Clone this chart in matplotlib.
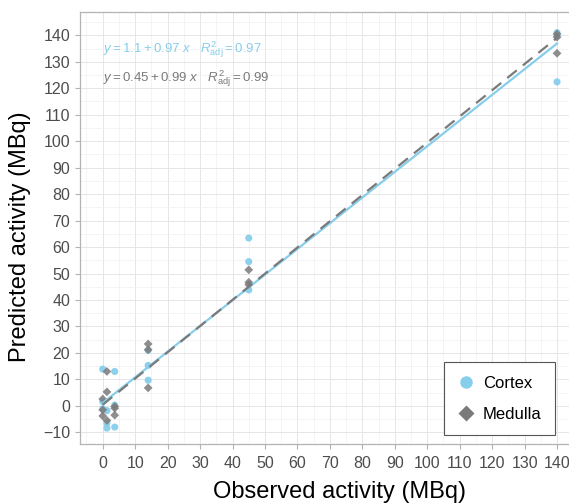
import matplotlib
matplotlib.use("Agg")
import matplotlib.pyplot as plt
import numpy as np
from matplotlib.lines import Line2D
from matplotlib.ticker import MultipleLocator

# observed vs predicted activity, three replicates per level
cortex_x = [0, 0, 0, 1.3, 1.3, 1.3, 3.7, 3.7, 3.7, 14, 14, 14, 45, 45, 45, 140, 140, 140]
cortex_y = [13.9, 1.6, -1.1, -1.8, -6.6, -8.4, 13.0, 0.3, -8.0,
            15.3, 9.7, 21.0, 63.4, 54.5, 43.8, 141.0, 139.8, 122.4]

medulla_x = [0, 0, 0, 1.3, 1.3, 1.3, 3.7, 3.7, 3.7, 14, 14, 14, 45, 45, 45, 140, 140, 140]
medulla_y = [2.6, -1.5, -3.8, 13.0, 5.3, -5.5, -0.2, -0.9, -3.5,
             23.4, 21.2, 6.8, 51.4, 46.7, 45.8, 140.5, 139.3, 133.2]

# fitted lines (intercept, slope) as printed on the chart
cortex_fit = (1.1, 0.97)
medulla_fit = (0.45, 0.99)
cortex_eq = r"$y = 1.1 + 0.97\ x\quad R^{2}_{\mathrm{adj}} = 0.97$"
medulla_eq = r"$y = 0.45 + 0.99\ x\quad R^{2}_{\mathrm{adj}} = 0.99$"

x_ticks = list(range(0, 141, 10))
y_ticks = list(range(-10, 141, 10))

CORTEX_COLOR = "#87CEEB"
MEDULLA_COLOR = "#7a7a7a"
TEXT_COLOR = "#4d4d4d"
BORDER_COLOR = "#b3b3b3"

plt.rcParams["font.family"] = ["Liberation Sans", "DejaVu Sans"]
plt.rcParams["mathtext.fontset"] = "custom"
plt.rcParams["mathtext.rm"] = "Liberation Sans"
plt.rcParams["mathtext.it"] = "Liberation Sans:italic"

W, H = 569, 503
fig = plt.figure(figsize=(W / 100, H / 100), dpi=100)
# panel runs slightly past the right edge of the image
ax = fig.add_axes([80 / W, 59 / H, 499.75 / W, 432 / H])

ax.scatter(cortex_x, cortex_y, s=26, marker="o", color=CORTEX_COLOR,
           edgecolors="none", alpha=0.95, zorder=3)
ax.scatter(medulla_x, medulla_y, s=20, marker="D", color=MEDULLA_COLOR,
           edgecolors="none", alpha=0.85, zorder=3)

x_line = np.array([min(cortex_x), max(cortex_x)])
ax.plot(x_line, cortex_fit[0] + cortex_fit[1] * x_line,
        color=CORTEX_COLOR, linewidth=1.6, zorder=4)
ax.plot(x_line, medulla_fit[0] + medulla_fit[1] * x_line,
        color=MEDULLA_COLOR, linewidth=1.6, dashes=(5.5, 3.5), zorder=5)

ax.text(0.046, 0.912, cortex_eq, transform=ax.transAxes, color=CORTEX_COLOR,
        fontsize=9.5, ha="left", va="center")
ax.text(0.046, 0.845, medulla_eq, transform=ax.transAxes, color=MEDULLA_COLOR,
        fontsize=9.5, ha="left", va="center")

ax.set_xlim(-7, 147)
ax.set_ylim(-14.4, 148.8)
ax.set_xticks(x_ticks)
ax.set_yticks(y_ticks)
ax.xaxis.set_minor_locator(MultipleLocator(5))
ax.yaxis.set_minor_locator(MultipleLocator(5))

ax.grid(True, which="major", color="#e6e6e6", linewidth=0.7)
ax.grid(True, which="minor", color="#f0f0f0", linewidth=0.5)
ax.set_axisbelow(True)

ax.tick_params(axis="both", which="major", colors=BORDER_COLOR, labelcolor=TEXT_COLOR,
               labelsize=11.5, length=3.5, width=0.8)
ax.tick_params(axis="x", which="major", pad=5)
ax.tick_params(axis="both", which="minor", length=0)
for spine in ax.spines.values():
    spine.set_edgecolor(BORDER_COLOR)
    spine.set_linewidth(0.9)

ax.set_xlabel("Observed activity (MBq)", fontsize=17, color="black")
ax.set_ylabel("Predicted activity (MBq)", fontsize=17, color="black")
ax.xaxis.set_label_coords(0.52, -0.085)
ax.yaxis.set_label_coords(-0.098, 0.48)

legend_elements = [
    Line2D([0], [0], marker="o", color="none", markerfacecolor=CORTEX_COLOR,
           markeredgecolor="none", markersize=9, label="Cortex"),
    Line2D([0], [0], marker="D", color="none", markerfacecolor=MEDULLA_COLOR,
           markeredgecolor="none", markersize=8, label="Medulla"),
]
legend = ax.legend(handles=legend_elements, loc="lower right",
                   bbox_to_anchor=(0.950, 0.021), borderaxespad=0,
                   fontsize=12, frameon=True, fancybox=False,
                   edgecolor="#555555", framealpha=1,
                   borderpad=0.8, labelspacing=0.95, handletextpad=0.5,
                   handlelength=1.0)
legend.get_frame().set_linewidth(0.8)

fig.savefig("out.png", dpi=100)
